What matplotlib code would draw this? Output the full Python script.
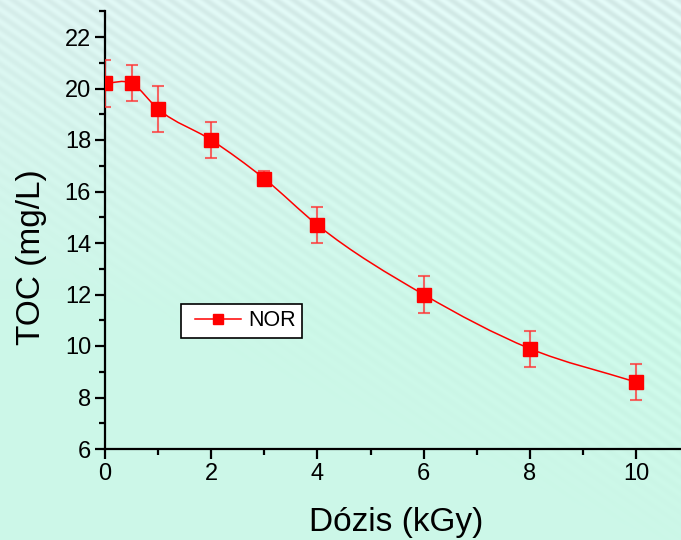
import numpy as np
import matplotlib
matplotlib.use("Agg")
import matplotlib.pyplot as plt
from matplotlib.path import Path
from matplotlib.patches import PathPatch
from matplotlib.ticker import MultipleLocator
from matplotlib.legend_handler import HandlerLine2D

plt.rcParams['font.family'] = ['Liberation Sans', 'DejaVu Sans']

# data
dose = [0, 0.5, 1, 2, 3, 4, 6, 8, 10]
toc = [20.2, 20.2, 19.2, 18.0, 16.5, 14.7, 12.0, 9.9, 8.6]
toc_err = [0.9, 0.7, 0.9, 0.7, 0.3, 0.7, 0.7, 0.7, 0.7]
series_label = "NOR"


def smooth_path(xs, ys):
    # cubic Hermite through the points (non-uniform spacing), as Bezier segments
    x = np.asarray(xs, float)
    y = np.asarray(ys, float)
    h = np.diff(x)
    d = np.diff(y) / h
    m = np.empty_like(x)
    m[0], m[-1] = d[0], d[-1]
    m[1:-1] = (h[1:] * d[:-1] + h[:-1] * d[1:]) / (h[:-1] + h[1:])
    verts = [(x[0], y[0])]
    codes = [Path.MOVETO]
    for i in range(len(x) - 1):
        verts += [(x[i] + h[i] / 3, y[i] + m[i] * h[i] / 3),
                  (x[i + 1] - h[i] / 3, y[i + 1] - m[i + 1] * h[i] / 3),
                  (x[i + 1], y[i + 1])]
        codes += [Path.CURVE4] * 3
    return Path(verts, codes)


fig = plt.figure(figsize=(6.81, 5.40), dpi=100)

# background: mint gradient with faint diagonal stripes fading out
bg = fig.add_axes([0, 0, 1, 1], zorder=-10)
hh, ww = 540, 681
yy, xx = np.mgrid[0:hh, 0:ww]
base = np.array([0.80, 0.97, 0.91])
top = np.array([0.86, 0.95, 0.94])
t = np.clip(1 - yy / 320.0, 0, 1)[..., None]
img = base * (1 - t) + top * t
stripe = np.sin(2 * np.pi * (xx * 0.57 - yy * 0.82) / 10.0)
fade = np.clip((xx / ww) * 0.7 + (1 - yy / 380.0) * 0.9 - 0.3, 0, 1)
img = img + (0.035 * stripe * fade)[..., None]
bg.imshow(np.clip(img, 0, 1), aspect='auto', interpolation='bilinear')
bg.axis('off')

ax = fig.add_axes([105 / 681, 91 / 540, 576 / 681, 438 / 540])
ax.set_facecolor('none')

ax.add_patch(PathPatch(smooth_path(dose, toc), facecolor='none',
                       edgecolor='red', lw=1.1, zorder=2))
ax.errorbar(dose, toc, yerr=toc_err, fmt='none', ecolor=(1, 0.2, 0.2, 0.75),
            elinewidth=1.5, capsize=4, capthick=1.5, zorder=3)
ax.plot(dose, toc, linestyle='none', marker='s', markersize=10,
        color='red', zorder=4)

# legend proxy
proxy, = ax.plot([], [], color='red', lw=1.1, marker='s', markersize=7.5,
                 label=series_label)
leg = ax.legend(loc='upper left', bbox_to_anchor=(76 / 576, 145 / 438),
                frameon=True, fancybox=False, fontsize=15.5, handlelength=2.5,
                borderpad=0.3, handletextpad=0.33, borderaxespad=0,
                handler_map={proxy: HandlerLine2D(xpad=0.33)})
leg.get_frame().set_edgecolor('black')
leg.get_frame().set_linewidth(1.2)
leg.get_frame().set_facecolor('white')
leg.get_frame().set_alpha(1)

ax.set_xlim(0, 576 / 53.1)
ax.set_ylim(6, 6 + 438 / 25.75)
ax.xaxis.set_major_locator(MultipleLocator(2))
ax.xaxis.set_minor_locator(MultipleLocator(1))
ax.yaxis.set_major_locator(MultipleLocator(2))
ax.yaxis.set_minor_locator(MultipleLocator(1))

for s in ('top', 'right'):
    ax.spines[s].set_visible(False)
for s in ('left', 'bottom'):
    ax.spines[s].set_linewidth(1.6)

ax.tick_params(which='major', direction='out', length=7, width=1.6,
               labelsize=17, pad=3)
ax.tick_params(which='minor', direction='out', length=4, width=1.6)

ax.set_xlabel("Dózis (kGy)", fontsize=24)
ax.set_ylabel("TOC (mg/L)", fontsize=24)
ax.xaxis.set_label_coords(291 / 576, -58 / 438)
ax.yaxis.set_label_coords(-58 / 576, 192 / 438)

fig.savefig("out.png", dpi=100)
